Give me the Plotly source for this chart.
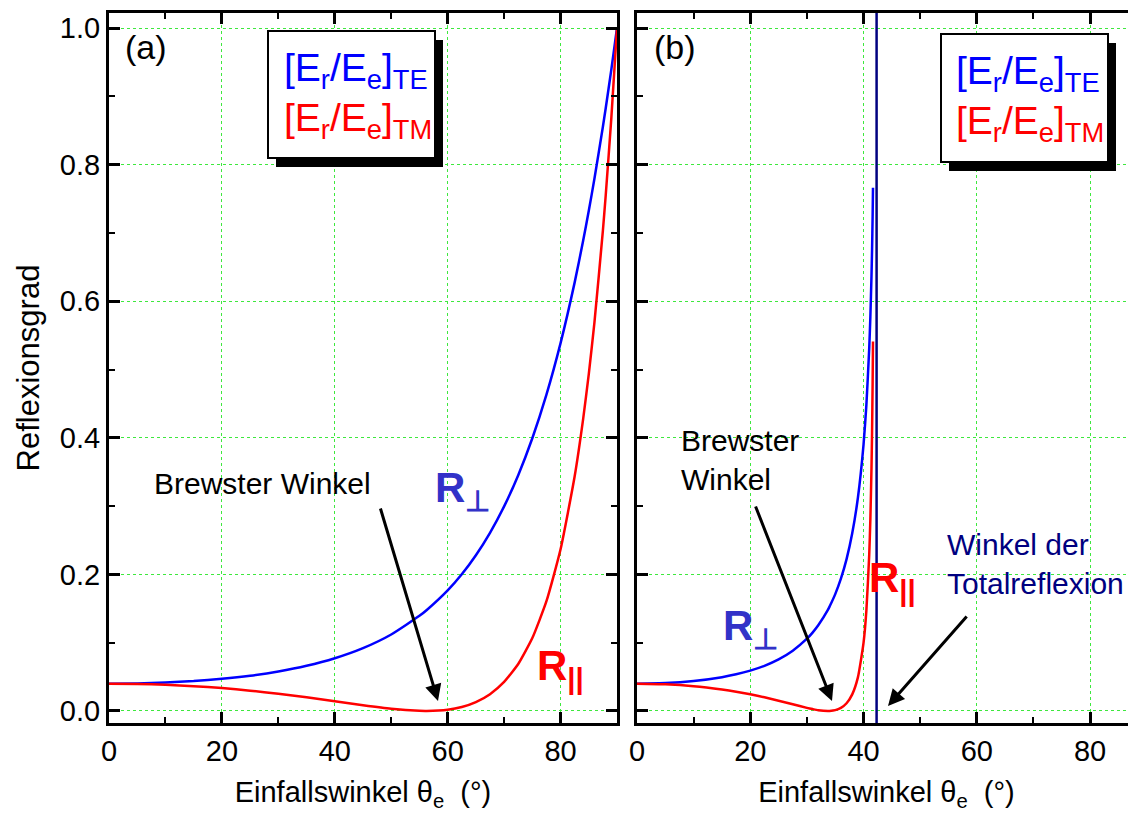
import plotly.graph_objects as go

# ---------------- data ----------------
# Panel (a): air -> glass
theta_a = [0, 5, 10, 15, 20, 25, 30, 35, 40, 45, 50, 55, 56.3, 60, 62.5, 65, 67.5,
           70, 72.5, 75, 77.5, 80, 82.5, 84, 85, 86, 87.5, 88, 89, 90]
r_te_a = [0.040, 0.0404, 0.0417, 0.0438, 0.0471, 0.0516, 0.0578, 0.0661, 0.0772, 0.0920,
          0.1120, 0.1393, 0.1479, 0.1766, 0.2002, 0.2281, 0.2609, 0.2996, 0.3453, 0.3994,
          0.4632, 0.5386, 0.6276, 0.6884, 0.7323, 0.7793, 0.8555, 0.8826, 0.9395, 1.0]
r_tm_a = [0.040, 0.0396, 0.0384, 0.0363, 0.0335, 0.0297, 0.0252, 0.0200, 0.0143, 0.0085,
          0.0033, 0.0002, 0.0, 0.0018, 0.0058, 0.0130, 0.0246, 0.0425, 0.0688, 0.1068,
          0.1607, 0.2368, 0.3436, 0.4273, 0.4933, 0.5688, 0.7034, 0.7548, 0.8689, 1.0]

# Panel (b): glass -> air
theta_b = [0, 5, 10, 15, 17.5, 20, 22.5, 25, 27.5, 30, 31, 32, 33.7, 34, 35, 36, 37, 38,
           39, 40, 40.5, 41, 41.2, 41.4, 41.5, 41.6, 41.665]
r_te_b = [0.040, 0.0409, 0.0439, 0.0495, 0.0537, 0.0591, 0.0661, 0.0755, 0.0882, 0.1058,
          0.1148, 0.1254, 0.1479, 0.1529, 0.1711, 0.1937, 0.2223, 0.2601, 0.3122, 0.3905,
          0.4482, 0.5310, 0.5769, 0.6366, 0.6751, 0.7235, 0.766]
r_tm_b = [0.040, 0.0391, 0.0363, 0.0314, 0.0282, 0.0244, 0.0200, 0.0151, 0.0098, 0.0046,
          0.0028, 0.0012, 0.0, 0.0001, 0.0012, 0.0045, 0.0113, 0.0243, 0.0492, 0.1001,
          0.1472, 0.2285, 0.2805, 0.3555, 0.4082, 0.4796, 0.541]
theta_total_b = 42.3   # angle of total reflection marker line

x_tick_vals = [0, 20, 40, 60, 80]
y_tick_vals = [0.0, 0.2, 0.4, 0.6, 0.8, 1.0]
y_tick_text = ["0.0", "0.2", "0.4", "0.6", "0.8", "1.0"]

x_range_a = [0, 90]
x_range_b = [0, 88.1]
y_range = [-0.0176, 1.022]

# ---------------- layout helpers ----------------
# The page body has an 8px margin, so the figure is drawn 8px in from the corner.
PAGE_W, PAGE_H, BODY = 1136, 816, 8
W, H = PAGE_W - BODY, PAGE_H - BODY
AX_L, AX_R, AX_T, AX_B = 109, PAGE_W, 13, 723   # plot area in page pixels
ML, MT = AX_L - BODY, AX_T - BODY
MR, MB = 0, PAGE_H - AX_B
PW, PH = AX_R - AX_L, AX_B - AX_T
FONT = "Liberation Sans, Arial, sans-serif"


def px(x):
    return (x - AX_L) / PW


def py(y):
    return (AX_B - y) / PH


BLUE = "#0000ff"
RED = "#ff0000"
NAVY = "#000080"
RBLUE = "#3232c8"
GRID = "#3ee83e"

fig = go.Figure()
line_kw = dict(width=2.5, shape="spline", smoothing=0.5)
fig.add_trace(go.Scatter(x=theta_a, y=r_te_a, mode="lines", xaxis="x", yaxis="y",
                         line=dict(color=BLUE, **line_kw), showlegend=False))
fig.add_trace(go.Scatter(x=theta_a, y=r_tm_a, mode="lines", xaxis="x", yaxis="y",
                         line=dict(color=RED, **line_kw), showlegend=False))
fig.add_trace(go.Scatter(x=theta_b, y=r_te_b, mode="lines", xaxis="x2", yaxis="y2",
                         line=dict(color=BLUE, **line_kw), showlegend=False))
fig.add_trace(go.Scatter(x=theta_b, y=r_tm_b, mode="lines", xaxis="x2", yaxis="y2",
                         line=dict(color=RED, **line_kw), showlegend=False))
fig.add_trace(go.Scatter(x=[theta_total_b, theta_total_b], y=y_range, mode="lines",
                         xaxis="x2", yaxis="y2", line=dict(color=NAVY, width=2.5),
                         showlegend=False))

tickfont = dict(family=FONT, size=29, color="black")
titlefont = dict(family=FONT, size=29, color="black")
xtitle = "Einfallswinkel θ<sub>e</sub>\u00a0 (°)"

common_x = dict(showline=True, linewidth=3, linecolor="black", mirror="allticks",
                ticks="inside", ticklen=11, tickwidth=3, tickcolor="black",
                tickvals=x_tick_vals, tickfont=tickfont,
                showgrid=True, gridcolor=GRID, griddash="dot", gridwidth=1,
                zeroline=False,
                minor=dict(ticks="inside", ticklen=6, tickwidth=2, tickcolor="black",
                           dtick=10, tick0=0, showgrid=False),
                title=dict(text=xtitle, font=titlefont, standoff=16))
common_y = dict(showline=True, linewidth=3, linecolor="black",
                ticks="inside", ticklen=11, tickwidth=3, tickcolor="black",
                tickvals=y_tick_vals, ticktext=y_tick_text, tickfont=tickfont,
                showgrid=True, gridcolor=GRID, griddash="dot", gridwidth=1,
                zeroline=False, range=y_range,
                minor=dict(ticks="inside", ticklen=6, tickwidth=2, tickcolor="black",
                           dtick=0.1, tick0=0, showgrid=False))

fig.update_layout(
    width=W, height=H,
    margin=dict(l=ML, r=MR, t=MT, b=MB, autoexpand=False),
    paper_bgcolor="white", plot_bgcolor="white",
    font=dict(family=FONT, color="black"),
    xaxis=dict(domain=[0, px(617)], range=x_range_a, anchor="y", **common_x),
    xaxis2=dict(domain=[px(637), 1.0], range=x_range_b, anchor="y2", **common_x),
    yaxis=dict(domain=[0, 1], anchor="x", mirror="allticks",
               title=dict(text="Reflexionsgrad", font=dict(family=FONT, size=31, color="black"),
                          standoff=12),
               **common_y),
    yaxis2=dict(domain=[0, 1], anchor="x2", mirror=False, showticklabels=False,
                **common_y),
)

# ---- legend-like boxes with drop shadows ----
shapes = []
for (x0, y0, x1, y1) in [(268, 31, 435, 158), (941, 34, 1108, 162)]:
    shapes.append(dict(type="rect", xref="paper", yref="paper", layer="above",
                       x0=px(x0 + 8), x1=px(x1 + 8), y0=py(y0 + 9), y1=py(y1 + 9),
                       fillcolor="black", line=dict(width=0)))
    shapes.append(dict(type="rect", xref="paper", yref="paper", layer="above",
                       x0=px(x0), x1=px(x1), y0=py(y0), y1=py(y1),
                       fillcolor="white", line=dict(color="black", width=2)))
fig.update_layout(shapes=shapes)

ann = []


def text(xp, yp, s, size, color="black", xanchor="left", yanchor="middle", align="left"):
    ann.append(dict(x=px(xp), y=py(yp), xref="paper", yref="paper", text=s,
                    showarrow=False, xanchor=xanchor, yanchor=yanchor, align=align,
                    font=dict(family=FONT, size=size, color=color)))


def arrow(x_tip, y_tip, x_tail, y_tail):
    ann.append(dict(x=px(x_tip), y=py(y_tip), xref="paper", yref="paper", text="",
                    showarrow=True, ax=x_tail - x_tip, ay=y_tail - y_tip,
                    arrowhead=2, arrowsize=1.1, arrowwidth=3, arrowcolor="black"))


# panel labels
text(123, 47, "(a)", 34)
text(652, 47, "(b)", 34)

# legend texts
te_lbl = "[E<sub>r</sub>/E<sub>e</sub>]<sub>TE</sub>"
tm_lbl = "[E<sub>r</sub>/E<sub>e</sub>]<sub>TM</sub>"
text(282, 70, te_lbl, 39, BLUE)
text(282, 120, tm_lbl, 39, RED)
text(954, 73, te_lbl, 39, BLUE)
text(954, 123, tm_lbl, 39, RED)

# curve labels
text(433, 490, "<b>R<sub>⊥</sub></b>", 42, RBLUE)
text(535, 668, "<b>R<sub>||</sub></b>", 42, RED)
text(721, 628, "<b>R<sub>⊥</sub></b>", 42, RBLUE)
text(867, 580, "<b>R<sub>||</sub></b>", 42, RED)

# Brewster annotations
text(152, 483, "Brewster Winkel", 30)
arrow(438, 701, 380, 507)
text(679, 460, "Brewster<br>Winkel", 30)
arrow(832, 701, 755, 505)

# total reflection
text(945, 564, "Winkel der<br>Totalreflexion", 30, NAVY)
arrow(888, 706, 968, 615)

fig.update_layout(annotations=ann)
fig.write_html("out.html")
